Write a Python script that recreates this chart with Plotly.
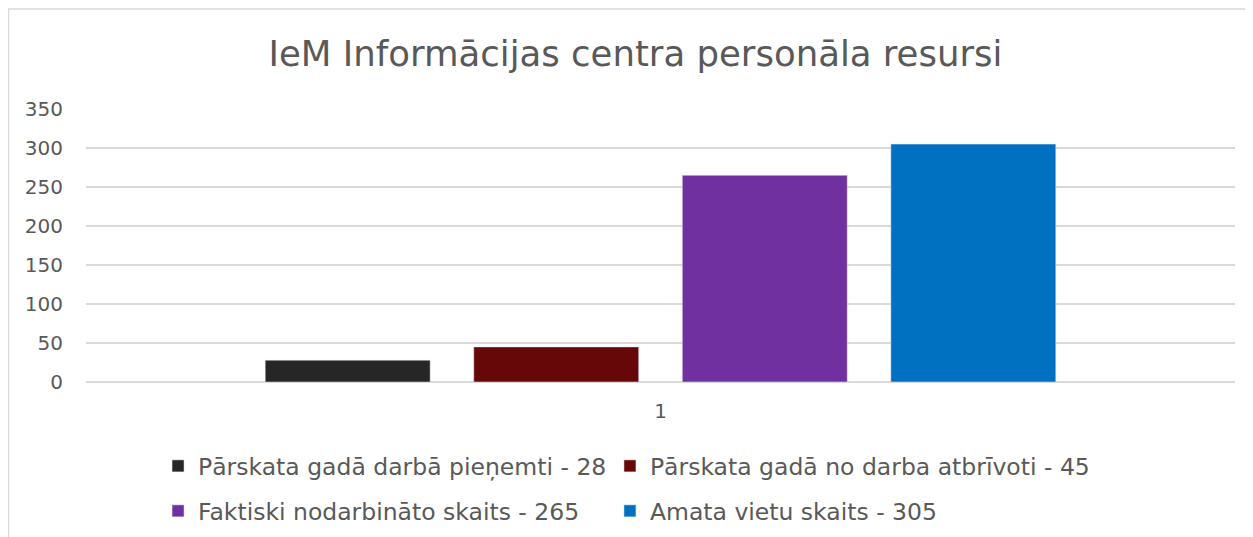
import plotly.graph_objects as go

category = ["1"]
series_names = [
    "Pārskata gadā darbā pieņemti - 28",
    "Pārskata gadā no darba atbrīvoti - 45",
    "Faktiski nodarbināto skaits - 265",
    "Amata vietu skaits - 305",
]
series_values = [28, 45, 265, 305]
colors = ["#262626", "#670808", "#7030a0", "#0070c0"]

font_family = "DejaVu Sans"
text_color = "#595959"

# one legend box per entry so the 2x2 grid lines up like the original
legend_ids = ["legend", "legend2", "legend3", "legend4"]
legend_x = [0.0627, 0.456, 0.0627, 0.456]
legend_y = [0.134, 0.134, 0.049, 0.049]

fig = go.Figure()
for name, val, col, lg in zip(series_names, series_values, colors, legend_ids):
    fig.add_trace(go.Bar(x=category, y=[val], name=name, marker_color=col,
                         legend=lg))

legends = {}
for lg, lx, ly in zip(legend_ids, legend_x, legend_y):
    legends[lg] = dict(x=lx, y=ly, yref="container", orientation="h",
                       xanchor="left", yanchor="middle",
                       bgcolor="rgba(0,0,0,0)",
                       font=dict(size=23.5, color=text_color, family=font_family))

# page body adds an 8px offset, so the figure is a bit smaller than the window
fig.update_layout(
    width=1245, height=529,
    margin=dict(l=78, r=18, t=101, b=155, autoexpand=False),
    paper_bgcolor="white", plot_bgcolor="white",
    font=dict(family=font_family, color=text_color),
    title=dict(text="IeM Informācijas centra personāla resursi",
               x=0.504, xanchor="center", y=0.914, yanchor="middle",
               font=dict(size=35.5, color=text_color)),
    barmode="group", bargap=0.274, bargroupgap=0.209,
    showlegend=True,
    xaxis=dict(type="category", showgrid=False, showline=False,
               ticks="", ticklabelstandoff=15,
               tickfont=dict(size=20, color=text_color)),
    yaxis=dict(range=[0, 350], dtick=50, gridcolor="#d9d9d9", gridwidth=1.5,
               zeroline=True, zerolinecolor="#d9d9d9", zerolinewidth=1.5,
               ticks="", ticklabelstandoff=22,
               tickfont=dict(size=20, color=text_color)),
    **legends,
)

# outer chart frame
fig.add_shape(type="rect", xref="paper", yref="paper",
              x0=-0.0675, x1=1.03, y0=-0.7, y1=1.366,
              line=dict(color="#d9d9d9", width=1.5), layer="below")

fig.write_html("out.html")
